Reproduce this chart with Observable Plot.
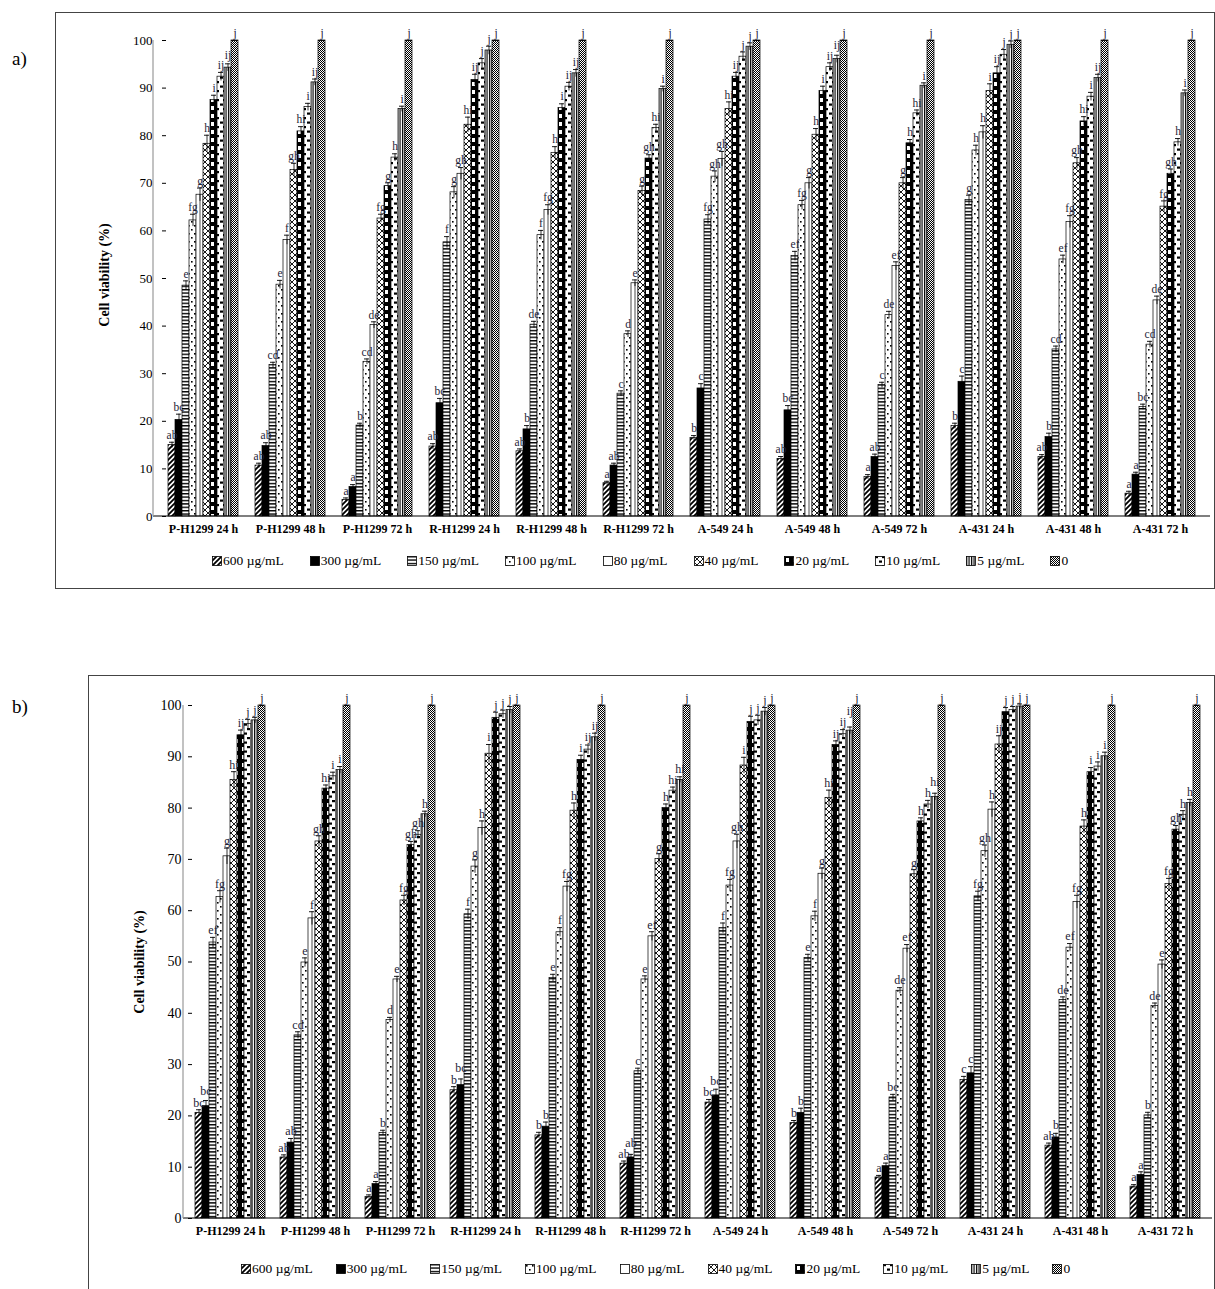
<!DOCTYPE html>
<html><head><meta charset="utf-8">
<script src="https://cdn.jsdelivr.net/npm/d3@7"></script>
<script src="https://cdn.jsdelivr.net/npm/@observablehq/plot@0.6"></script>
<style>
body{margin:0;background:#fff;font-family:'Liberation Serif','Times New Roman',serif;color:#000;}
#page{position:relative;width:1215px;height:1289px;overflow:hidden;}
.frame{position:absolute;border:1px solid #444;}
.plabel{position:absolute;font-size:19px;}
.ylab{position:absolute;font-weight:bold;font-size:14px;transform:translate(-50%,-50%) rotate(-90deg);white-space:nowrap;}
.legend{position:absolute;display:flex;font-size:13.5px;white-space:nowrap;align-items:center;}
.legend span{display:flex;align-items:center;}
.legend svg{margin-right:1px;}
.chart{position:absolute;left:0;}
</style></head>
<body>
<svg width="0" height="0" style="position:absolute">
<defs>
<pattern id="p0" patternUnits="userSpaceOnUse" width="5" height="5"><rect width="5" height="5" fill="#fff"/><path d="M-1,6 L6,-1 M-1,1 L1,-1 M4,6 L6,4" stroke="#000" stroke-width="1.8"/></pattern>
<pattern id="p1" patternUnits="userSpaceOnUse" width="4" height="4"><rect width="4" height="4" fill="#000"/></pattern>
<pattern id="p2" patternUnits="userSpaceOnUse" width="4" height="3.4"><rect width="4" height="3.4" fill="#fff"/><rect y="0" width="4" height="1.4" fill="#000"/></pattern>
<pattern id="p3" patternUnits="userSpaceOnUse" width="6" height="8"><rect width="6" height="8" fill="#fff"/><rect x="1" y="1" width="1.6" height="1.6" fill="#000"/><rect x="4" y="5" width="1.6" height="1.6" fill="#000"/></pattern>
<pattern id="p4" patternUnits="userSpaceOnUse" width="8" height="60"><rect width="8" height="60" fill="#fff"/></pattern>
<pattern id="p5" patternUnits="userSpaceOnUse" width="6" height="6"><rect width="6" height="6" fill="#fff"/><path d="M0,0 L6,6 M6,0 L0,6" stroke="#000" stroke-width="0.9"/></pattern>
<pattern id="p6" patternUnits="userSpaceOnUse" width="7" height="8"><rect width="7" height="8" fill="#000"/><rect x="2" y="2" width="3" height="4" fill="#fff"/></pattern>
<pattern id="p7" patternUnits="userSpaceOnUse" width="7" height="9"><rect width="7" height="9" fill="#fff"/><rect x="0" y="0" width="3" height="2.2" fill="#000"/><rect x="4" y="4.5" width="3" height="2.2" fill="#000"/></pattern>
<pattern id="p8" patternUnits="userSpaceOnUse" width="2.5" height="4"><rect width="2.5" height="4" fill="#fff"/><rect width="1.2" height="4" fill="#000"/></pattern>
<pattern id="p9" patternUnits="userSpaceOnUse" width="2" height="2"><rect width="2" height="2" fill="#fff"/><rect width="1" height="1" fill="#000"/><rect x="1" y="1" width="1" height="1" fill="#000"/></pattern>
</defs>
</svg>
<div id="page">
  <div class="frame" style="left:55px;top:12px;width:1158px;height:575px;"></div>
  <div class="frame" style="left:88px;top:675px;width:1125px;height:640px;"></div>
  <div class="plabel" style="left:12px;top:48px;">a)</div>
  <div class="plabel" style="left:12px;top:696px;">b)</div>
  <div class="ylab" style="left:105px;top:275px;">Cell viability (%)</div>
  <div class="ylab" style="left:140px;top:962px;">Cell viability (%)</div>
  <div id="chartA" class="chart" style="top:0px;"></div>
  <div id="chartB" class="chart" style="top:665px;"></div>
  <div id="legA" class="legend" style="left:212px;top:553px;gap:26px;"></div>
  <div id="legB" class="legend" style="left:241px;top:1261px;gap:23px;"></div>
</div>
<script>
const groups = ["P-H1299 24 h","P-H1299 48 h","P-H1299 72 h","R-H1299 24 h","R-H1299 48 h","R-H1299 72 h","A-549 24 h","A-549 48 h","A-549 72 h","A-431 24 h","A-431 48 h","A-431 72 h"];
const conc = ["600 µg/mL","300 µg/mL","150 µg/mL","100 µg/mL","80 µg/mL","40 µg/mL","20 µg/mL","10 µg/mL","5 µg/mL","0"];
const yTicks = [0,10,20,30,40,50,60,70,80,90,100];

// Panel a) mean cell viability (%)
const valuesA = [
  [15.0,20.3,48.5,62.2,67.6,78.3,87.5,92.4,94.3,100],
  [10.7,14.8,31.8,48.7,58.1,72.8,80.9,86.0,91.2,100],
  [3.5,6.2,19.1,32.5,40.2,62.6,69.4,75.4,85.6,100],
  [14.7,23.8,57.6,68.1,72.0,82.3,91.7,95.2,97.9,100],
  [13.7,18.3,40.3,59.1,64.4,76.4,85.8,90.3,93.1,100],
  [7.0,10.7,25.8,38.3,49.0,68.4,75.2,81.6,89.8,100],
  [16.5,26.9,62.4,71.4,75.1,85.6,92.4,96.6,98.7,100],
  [12.1,22.3,54.7,65.4,70.0,80.2,89.4,94.4,96.1,100],
  [8.3,12.5,27.6,42.3,52.6,70.0,78.4,84.7,90.5,100],
  [19.0,28.3,66.5,76.9,80.7,89.4,93.1,97.0,99.1,100],
  [12.5,16.7,35.1,54.0,61.9,74.2,83.0,88.2,92.1,100],
  [4.8,8.8,23.0,36.1,45.4,65.1,72.0,78.6,88.9,100]
];
const errorsA = [
  [0.6,1.2,1.0,1.3,1.4,1.8,1.0,0.9,0.8,0],
  [0.5,0.7,0.6,0.9,1.0,1.4,1.0,0.8,0.7,0],
  [0.4,0.5,0.5,0.6,0.7,0.9,0.7,0.8,0.6,0],
  [0.6,1.0,1.2,1.2,1.3,1.6,1.2,1.0,0.9,0],
  [0.5,0.8,0.7,1.0,1.1,1.3,0.9,0.9,0.8,0],
  [0.4,0.5,0.6,0.7,0.7,1.0,0.8,0.8,0.6,0],
  [0.5,1.0,1.0,1.2,1.6,1.5,0.9,1.0,0.8,0],
  [0.5,1.0,1.0,1.0,1.2,1.3,1.0,0.9,0.8,0],
  [0.5,0.6,0.6,0.8,0.9,1.2,0.8,0.7,0.6,0],
  [0.6,1.2,1.0,1.1,1.4,1.5,1.4,1.1,0.8,0],
  [0.5,0.8,0.7,0.9,1.3,1.2,1.0,0.9,0.8,0],
  [0.5,0.5,0.6,0.7,0.9,1.2,1.0,0.8,0.7,0]
];
const lettersA = [
  "ab bc e fg g h i ij ij j",
  "ab ab cd e f gh hi i ij j",
  "a a b cd de fg g h i j",
  "ab bc f g gh hi ij j j j",
  "ab b de f fg h i ij ij j",
  "a ab c d e g gh hi i j",
  "b c fg gh gh hi ij j j j",
  "ab bc ef fg g h i ij ij j",
  "a ab c de ef g h hi i j",
  "b c g h h i ij j j j",
  "ab b cd ef fg gh hi i ij j",
  "a a bc cd de fg gh h i j"
];

// Panel b) mean cell viability (%)
const valuesB = [
  [20.6,21.9,53.8,62.7,70.6,85.5,94.2,96.4,97.1,100],
  [11.9,14.8,35.7,49.9,58.5,73.5,83.8,86.2,87.4,100],
  [4.2,6.7,16.7,38.7,46.6,62.0,72.8,74.8,78.8,100],
  [25.0,26.0,59.3,68.6,76.1,90.6,97.6,98.3,99.1,100],
  [16.2,17.9,46.9,55.8,64.7,79.5,89.4,91.4,93.8,100],
  [10.7,11.9,28.7,46.6,55.0,70.1,80.0,83.4,85.5,100],
  [22.6,24.0,56.6,64.9,73.5,88.3,96.8,97.1,98.8,100],
  [18.6,20.6,50.8,58.9,67.2,82.0,92.3,94.4,95.1,100],
  [8.0,10.2,23.6,44.4,52.6,67.1,77.4,80.7,82.2,100],
  [27.0,28.3,62.8,71.6,79.7,92.4,98.7,99.1,99.8,100],
  [14.2,15.8,42.6,52.8,61.7,76.4,87.0,88.1,90.1,100],
  [6.2,8.5,20.1,41.4,49.5,65.2,75.8,78.7,81.0,100]
];
const errorsB = [
  [0.6,1.1,1.0,1.2,1.6,1.6,1.0,0.9,0.6,0],
  [0.5,0.8,0.7,0.9,1.3,1.1,0.7,0.8,0.7,0],
  [0.4,0.5,0.5,0.5,0.6,1.0,0.7,0.8,0.6,0],
  [0.7,1.2,1.0,1.3,1.4,1.8,1.1,0.8,0.7,0],
  [0.6,0.9,0.7,0.9,1.0,1.5,0.9,0.9,0.8,0],
  [0.5,0.6,0.6,0.7,0.9,1.0,0.8,0.7,0.6,0],
  [0.6,1.2,1.0,1.2,1.4,1.6,1.1,1.0,0.8,0],
  [0.5,0.9,0.7,1.0,1.1,1.5,0.8,0.9,0.7,0],
  [0.4,0.6,0.6,0.6,0.8,0.9,0.7,0.8,0.7,0],
  [0.7,1.3,1.0,1.2,1.5,1.7,0.9,0.7,0.5,0],
  [0.5,0.8,0.6,0.8,1.3,1.3,0.9,0.9,0.8,0],
  [0.4,0.6,0.6,0.6,0.9,1.1,0.8,0.8,0.7,0]
];
const lettersB = [
  "bc bc ef fg g hi ij j j j",
  "ab ab cd e f gh hi i i j",
  "a a b d e fg gh gh h j",
  "b bc f g h i j j j j",
  "b b e f fg h i ij ij j",
  "ab ab c e ef g h hi hi j",
  "bc bc f fg gh i j j j j",
  "b b e f g hi ij ij ij j",
  "a a bc de ef g h h hi j",
  "c c fg gh h ij j j j j",
  "ab b de ef fg h i i i j",
  "a a b de e fg gh h h j"
];

const patIds = conc.map((c, i) => `url(#p${i})`);
const serif = "'Liberation Serif', 'Times New Roman', serif";

// rows; label height stagger (in value units) keeps wide neighbouring letters apart
function buildRows(vals, errs, lets, gapUnits) {
  const rows = [];
  groups.forEach((g, gi) => {
    const L = lets[gi].split(" ");
    let prev = null;
    conc.forEach((c, ci) => {
      const top = vals[gi][ci] + errs[gi][ci];
      let ly = top;
      if (prev && (prev.l.length + L[ci].length) > 2 && Math.abs(ly - prev.ly) < gapUnits && ly < 99) {
        ly = prev.ly + gapUnits;
      }
      const r = {g, c, ci, v: vals[gi][ci], e: errs[gi][ci], l: L[ci], ly};
      rows.push(r);
      prev = r;
    });
  });
  return rows;
}

function panel(rows, o) {
  const svg = Plot.plot({
    width: 1215, height: o.h,
    marginLeft: o.ml, marginRight: o.mr, marginTop: 40, marginBottom: o.mb,
    style: {fontFamily: serif, fontSize: o.fs + "px", background: "transparent", overflow: "visible", color: "#000"},
    facet: {data: rows, x: "g"},
    fx: {domain: groups, paddingInner: o.pi, paddingOuter: o.po, axis: null, label: null},
    x: {domain: conc, padding: 0, axis: null},
    y: {domain: [0, 100], ticks: yTicks, tickSize: 4, tickPadding: o.tp, label: null},
    color: {type: "identity"},
    marks: [
      Plot.barY(rows, {x: "c", y: "v", fill: d => patIds[d.ci], stroke: "#000", strokeWidth: 0.7}),
      Plot.ruleX(rows, {filter: d => d.ci === 4, x: "c", y1: 0, y2: "v", stroke: "#000", strokeWidth: 0.7}),
      Plot.ruleX(rows, {x: "c", y1: d => d.v - d.e, y2: d => d.v + d.e, stroke: "#000", strokeWidth: 0.8}),
      Plot.tickY(rows, {x: "c", y: d => d.v + d.e, stroke: "#000", strokeWidth: 0.9, insetLeft: 1, insetRight: 1}),
      Plot.text(rows, {x: "c", y: "ly", text: "l", dy: -7, fontSize: o.lfs, fill: "#1e1e38", fontFamily: serif}),
      Plot.text(rows, {filter: d => d.ci === 0, text: "g", frameAnchor: "bottom", dy: 16, fontWeight: "bold", fontSize: 12, fontFamily: serif})
    ]
  });
  const ys = svg.scale("y");
  const ns = "http://www.w3.org/2000/svg";
  const base = document.createElementNS(ns, "line");
  base.setAttribute("x1", o.ml); base.setAttribute("x2", 1215 - o.mr);
  base.setAttribute("y1", ys.apply(0)); base.setAttribute("y2", ys.apply(0));
  base.setAttribute("stroke", "#000"); base.setAttribute("stroke-width", "1.2");
  svg.appendChild(base);
  const ax = document.createElementNS(ns, "line");
  ax.setAttribute("x1", o.ml); ax.setAttribute("x2", o.ml);
  ax.setAttribute("y1", ys.apply(0)); ax.setAttribute("y2", ys.apply(100));
  ax.setAttribute("stroke", "#999"); ax.setAttribute("stroke-width", "1.2");
  svg.appendChild(ax);
  return svg;
}

document.getElementById("chartA").appendChild(panel(buildRows(valuesA, errorsA, lettersA, 2.2),
  {h: 545, ml: 153, mr: 5, mb: 29, pi: 0.148, po: 0.08, tp: 10, fs: 13, lfs: 11.5}));
document.getElementById("chartB").appendChild(panel(buildRows(valuesB, errorsB, lettersB, 2.2),
  {h: 580, ml: 183, mr: 3, mb: 27, pi: 0.111, po: 0.073, tp: 7, fs: 14, lfs: 12}));

function legend(id) {
  const el = document.getElementById(id);
  conc.forEach((c, i) => {
    const s = document.createElement("span");
    s.innerHTML = `<svg width="10" height="10"><rect x="0.5" y="0.5" width="9" height="9" fill="${patIds[i]}" stroke="#000" stroke-width="0.8"/></svg>${c}`;
    el.appendChild(s);
  });
}
legend("legA"); legend("legB");
</script>
</body></html>
